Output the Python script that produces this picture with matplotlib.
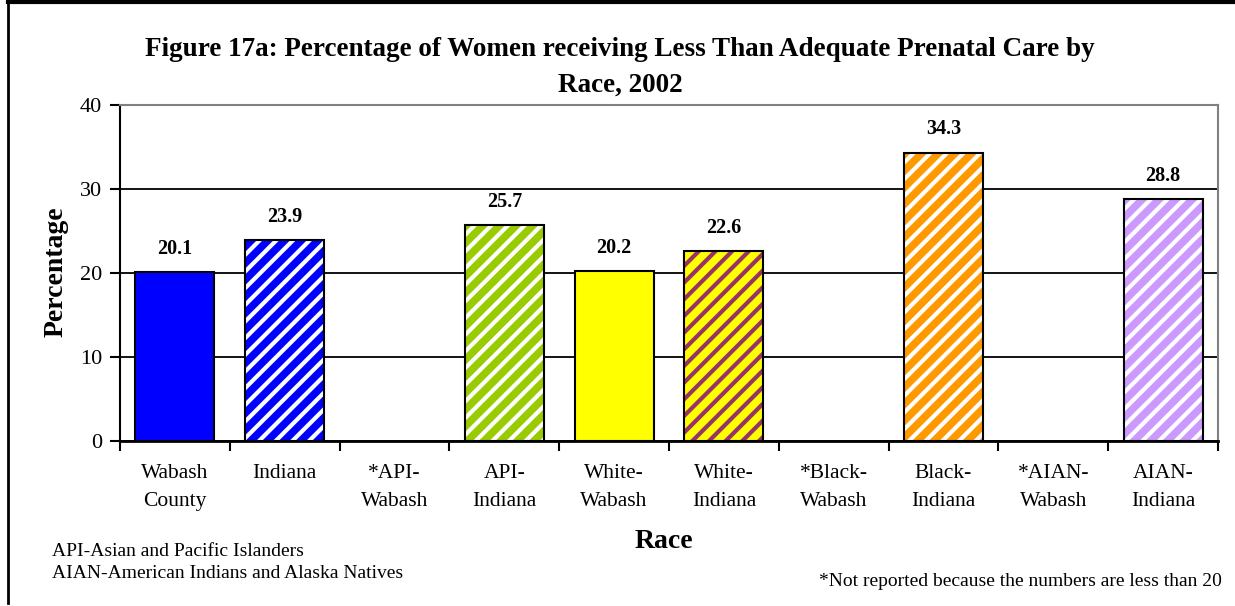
import matplotlib
matplotlib.use("Agg")
from matplotlib import pyplot as plt
from matplotlib.lines import Line2D

plt.rcParams['font.family'] = ['Liberation Serif', 'DejaVu Serif']
plt.rcParams['hatch.linewidth'] = 3.0

categories = ['Wabash\nCounty', 'Indiana', '*API-\nWabash', 'API-\nIndiana', 'White-\nWabash',
              'White-\nIndiana', '*Black-\nWabash', 'Black-\nIndiana', '*AIAN-\nWabash', 'AIAN-\nIndiana']
values = [20.1, 23.9, None, 25.7, 20.2, 22.6, None, 34.3, None, 28.8]
fills = ['#0000ff', '#0000ff', None, '#99cc00', '#ffff00', '#ffff00', None, '#ff9900', None, '#cc99ff']
stripes = [None, 'white', None, 'white', None, '#993366', None, 'white', None, 'white']

W, H = 1235, 606
fig = plt.figure(figsize=(W / 100, H / 100), dpi=100)
ax = fig.add_axes([120/W, 1-441/H, (1218-120)/W, (441-105)/H])

for i, v in enumerate(values):
    if v is None:
        continue
    if stripes[i] is None:
        ax.bar(i, v, width=0.72, color=fills[i], edgecolor='black', linewidth=1.5, zorder=3)
    else:
        # coloured bar with stripes, then a black outline on top
        ax.bar(i, v, width=0.72, color=fills[i], edgecolor=stripes[i], hatch='//', linewidth=0, zorder=3)
        ax.bar(i, v, width=0.72, fill=False, edgecolor='black', linewidth=1.5, zorder=4)
    ax.text(i, v + 1.6, f'{v:.1f}', ha='center', va='bottom', fontsize=14.5, fontweight='bold')

ax.set_xlim(-0.5, len(values) - 0.5)
ax.set_ylim(0, 40)
ax.set_yticks([0, 10, 20, 30, 40])
ax.yaxis.grid(True, color='black', linewidth=1.3, zorder=0)
ax.set_axisbelow(True)
ax.set_xticks([i + 0.5 for i in range(-1, len(values))])
ax.set_xticklabels([])
ax.tick_params(axis='x', length=7, width=1.5, direction='out')
ax.tick_params(axis='y', length=7, width=1.5, labelsize=16, pad=6)
for i, c in enumerate(categories):
    ax.text(i, -2.7, c, ha='center', va='top', fontsize=15.5, linespacing=1.7)

ax.spines['left'].set_linewidth(1.5)
ax.spines['bottom'].set_linewidth(2)
ax.spines['top'].set_color('#808080')
ax.spines['right'].set_color('#808080')
ax.spines['top'].set_linewidth(1.5)
ax.spines['right'].set_linewidth(1.5)

fig.text(56/W, 1-272/H, 'Percentage', ha='center', va='center', rotation=90, fontsize=20, fontweight='bold')
fig.text(664/W, 1-542/H, 'Race', ha='center', va='center', fontsize=20, fontweight='bold')

fig.text(620/W, 1-50/H, 'Figure 17a: Percentage of Women receiving Less Than Adequate Prenatal Care by',
         ha='center', va='center', fontsize=19.5, fontweight='bold')
fig.text(620/W, 1-85/H, 'Race, 2002', ha='center', va='center', fontsize=19.5, fontweight='bold')

fig.text(52/W, 1-552/H, 'API-Asian and Pacific Islanders', ha='left', va='center', fontsize=14)
fig.text(52/W, 1-573/H, 'AIAN-American Indians and Alaska Natives', ha='left', va='center', fontsize=14)
fig.text(1222/W, 1-582/H, '*Not reported because the numbers are less than 20', ha='right', va='center', fontsize=14)

fig.add_artist(Line2D([8/W, 8/W], [3/H, 1], color='black', linewidth=2, transform=fig.transFigure))
fig.add_artist(Line2D([8/W, 1], [1-1.5/H, 1-1.5/H], color='black', linewidth=3, transform=fig.transFigure))

fig.savefig('out.png', dpi=100)
